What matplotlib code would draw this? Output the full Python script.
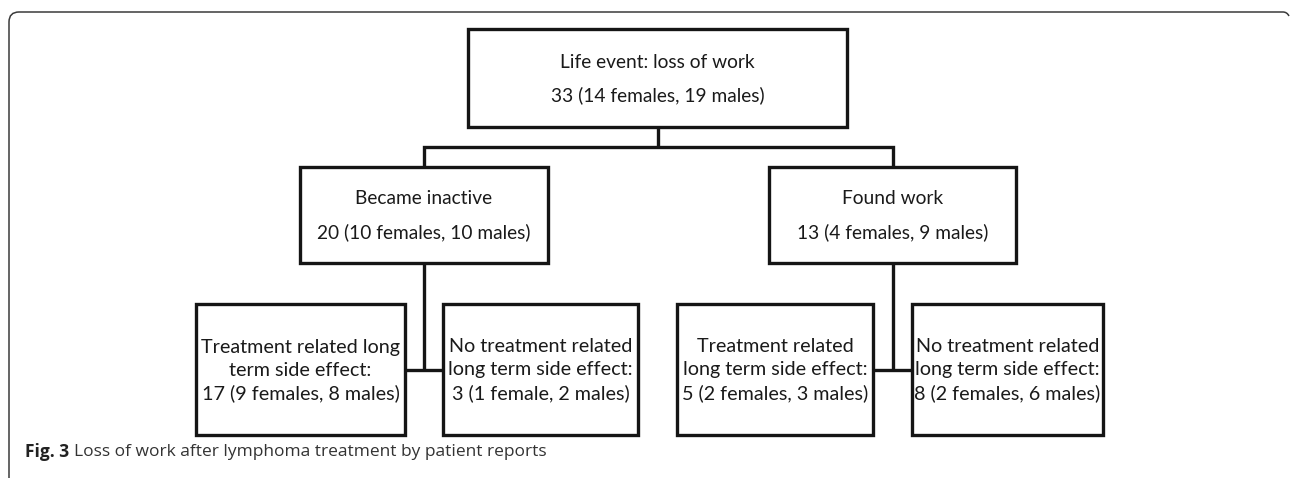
import matplotlib
matplotlib.use("Agg")
import matplotlib.pyplot as plt
from matplotlib.patches import Rectangle, PathPatch
from matplotlib.path import Path

# ---- data ----
top_title = "Life event: loss of work"
top_total, top_f, top_m = 33, 14, 19

mid_titles = ["Became inactive", "Found work"]
mid_totals = [20, 13]
mid_females = [10, 4]
mid_males = [10, 9]

leaf_titles = [
    ["Treatment related long", "term side effect:"],
    ["No treatment related", "long term side effect:"],
    ["Treatment related", "long term side effect:"],
    ["No treatment related", "long term side effect:"],
]
leaf_totals = [17, 3, 5, 8]
leaf_females = [9, 1, 2, 2]
leaf_males = [8, 2, 3, 6]

caption_bold = "Fig. 3"
caption_text = "Loss of work after lymphoma treatment by patient reports"


def count_label(total, f, m):
    fw = "female" if f == 1 else "females"
    mw = "male" if m == 1 else "males"
    return f"{total} ({f} {fw}, {m} {mw})"


# ---- layout (pixels) ----
W, H = 1290, 478
fig = plt.figure(figsize=(W / 100, H / 100), dpi=100)
ax = fig.add_axes([0, 0, 1, 1])
ax.set_xlim(0, W)
ax.set_ylim(H, 0)
ax.axis("off")

LW = 2.4
BOX_FONT = "Lato"
col = "#151515"

def box(x0, x1, y0, y1):
    ax.add_patch(Rectangle((x0, y0), x1 - x0, y1 - y0, fill=False,
                           edgecolor=col, linewidth=LW, joinstyle="miter"))

def line(xs, ys):
    ax.plot(xs, ys, color=col, linewidth=LW, solid_joinstyle="miter",
            solid_capstyle="butt")

def lines_text(xc, ys, texts, size):
    for y, t in zip(ys, texts):
        ax.text(xc, y, t, ha="center", va="center", fontsize=size,
                family=BOX_FONT, color="#1a1a1a")

# top box
tb = (468, 847, 29, 127)
box(*tb)
tcx = (tb[0] + tb[1]) / 2
lines_text(tcx, [62, 95], [top_title, count_label(top_total, top_f, top_m)], 13.8)

# mid boxes
mid_boxes = [(300, 548, 167, 263), (769, 1016, 167, 263)]
mid_cx = [(b[0] + b[1]) / 2 for b in mid_boxes]
for b, t, n, f, m in zip(mid_boxes, mid_titles, mid_totals, mid_females, mid_males):
    box(*b)
    lines_text((b[0] + b[1]) / 2, [199, 232], [t, count_label(n, f, m)], 13.8)

# connectors top -> mid
line([tcx, tcx], [tb[3], 147])
line([mid_cx[0], mid_cx[0], mid_cx[1], mid_cx[1]], [167, 147, 147, 167])

# leaf boxes
leaf_boxes = [(196, 405, 304, 435), (443, 638, 304, 435),
              (677, 873, 304, 435), (912, 1103, 304, 435)]
for b, tl, n, f, m in zip(leaf_boxes, leaf_titles, leaf_totals, leaf_females, leaf_males):
    box(*b)
    lines_text((b[0] + b[1]) / 2, [347, 370, 393], tl + [count_label(n, f, m)], 14.2)

# connectors mid -> leaves
for i, cx in enumerate(mid_cx):
    lb, rb = leaf_boxes[2 * i], leaf_boxes[2 * i + 1]
    line([cx, cx], [mid_boxes[i][3], 370])
    line([lb[1], rb[0]], [370, 370])

# outer frame (left + top with rounded corner)
r = 10
verts = [(9, H + 5), (9, 12 + r), (9, 12), (9 + r, 12), (1283, 12), (1287, 12), (1289, 16)]
codes = [Path.MOVETO, Path.LINETO, Path.CURVE3, Path.CURVE3, Path.LINETO,
         Path.CURVE3, Path.CURVE3]
ax.add_patch(PathPatch(Path(verts, codes), fill=False, edgecolor="#3a3a3a", linewidth=1.1))

# caption
cap_font = "Open Sans"
t1 = ax.text(25, 452, caption_bold, ha="left", va="center", fontsize=12.5,
             family=cap_font, fontweight="bold", color="#222222")
fig.canvas.draw()
bb = t1.get_window_extent(renderer=fig.canvas.get_renderer())
inv = ax.transData.inverted()
x_end = inv.transform((bb.x1, bb.y0))[0]
ax.text(x_end + 5, 452, caption_text, ha="left", va="center", fontsize=12.5,
        family=cap_font, color="#333333")

fig.savefig("out.png", dpi=100)
